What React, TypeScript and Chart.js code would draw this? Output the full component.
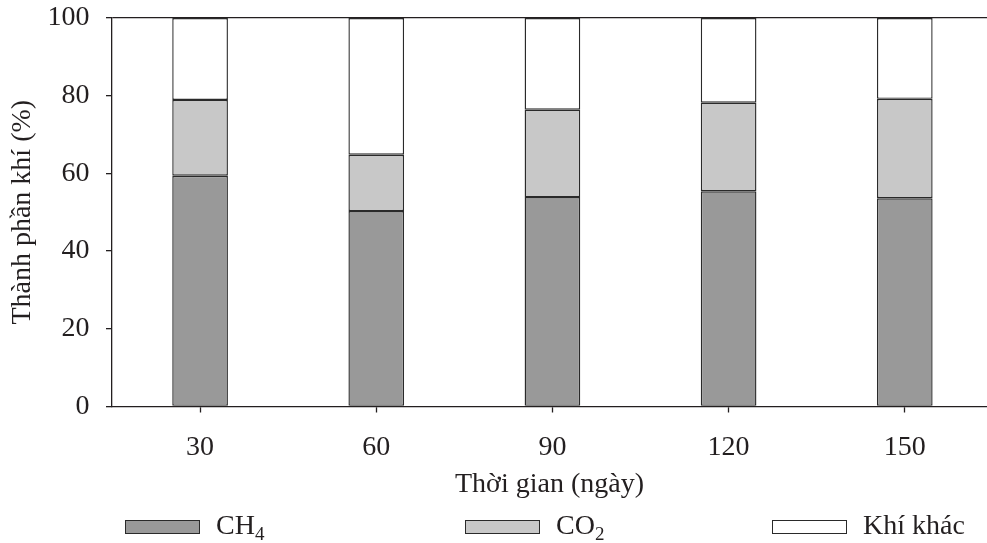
import React, { useEffect, useRef } from "react";
import { Chart, registerables } from "chart.js";

Chart.register(...registerables);

// ---- data ----
const days = [30, 60, 90, 120, 150];
const ch4 = [59.4, 50.3, 53.9, 55.4, 53.6];
const co2 = [19.5, 14.5, 22.5, 22.8, 25.6];
const otherGas = [21.1, 35.2, 23.6, 21.8, 20.8];
const seriesNames = ["CH4", "CO2", "Khí khác"];
const seriesColors = ["#999999", "#c8c8c8", "#ffffff"];
const yTicks = [0, 20, 40, 60, 80, 100];
const xTitle = "Thời gian (ngày)";
const yTitle = "Thành phần khí (%)";

const FONT = "'Liberation Serif', 'Times New Roman', serif";
const INK = "#231f20";
const legendLeft = [125, 465, 772];

function renderName(name: string) {
  const m = name.match(/^([A-Za-z]+)(\d+)$/);
  if (!m) return name;
  return (
    <>
      {m[1]}
      <sub style={{ fontSize: "0.68em", verticalAlign: "-0.3em", lineHeight: 0 }}>{m[2]}</sub>
    </>
  );
}

export default function App() {
  const canvasRef = useRef<HTMLCanvasElement | null>(null);

  useEffect(() => {
    const canvas = canvasRef.current;
    if (!canvas) return;
    const seriesValues = [ch4, co2, otherGas];
    const chart = new Chart(canvas, {
      type: "bar",
      data: {
        datasets: seriesNames.map((name, si) => ({
          label: name,
          data: days.map((d, i) => ({ x: d, y: seriesValues[si][i] })),
          backgroundColor: seriesColors[si],
          borderColor: "#2a2a2a",
          borderWidth: 1.4,
          borderSkipped: false,
          barPercentage: 0.316,
          categoryPercentage: 1,
        })),
      },
      options: {
        animation: false,
        responsive: false,
        devicePixelRatio: 1,
        layout: { padding: { top: 18, right: 0, left: 0, bottom: 0 } },
        plugins: { legend: { display: false }, tooltip: { enabled: false } },
        scales: {
          x: {
            type: "linear",
            stacked: true,
            offset: false,
            min: 15,
            max: 164,
            afterBuildTicks: (scale: any) => {
              scale.ticks = days.map((v) => ({ value: v }));
            },
            afterFit: (scale: any) => {
              scale.height = 543 - 406.5;
              scale.paddingLeft = 0;
              scale.paddingRight = 0;
            },
            border: { display: true, color: INK, width: 1.3 },
            grid: {
              offset: false,
              color: "transparent",
              tickColor: INK,
              tickLength: 6,
              tickWidth: 1.3,
            },
            ticks: {
              padding: 18,
              color: INK,
              font: { family: FONT, size: 28 },
              callback: (v: any) => String(v),
              maxRotation: 0,
            },
            title: {
              display: true,
              text: xTitle,
              color: INK,
              font: { family: FONT, size: 28 },
              padding: { top: 0, bottom: 42 },
            },
          },
          y: {
            stacked: true,
            min: 0,
            max: 100,
            afterBuildTicks: (scale: any) => {
              scale.ticks = yTicks.map((v) => ({ value: v }));
            },
            afterFit: (scale: any) => {
              scale.width = 112;
              scale.paddingTop = 0;
              scale.paddingBottom = 0;
            },
            border: { display: true, color: INK, width: 1.3 },
            grid: {
              color: (ctx: any) => (ctx.tick && ctx.tick.value === 100 ? INK : "transparent"),
              lineWidth: 1.3,
              tickColor: INK,
              tickLength: 6,
              tickWidth: 1.3,
            },
            ticks: {
              padding: 16.5,
              color: INK,
              font: { family: FONT, size: 28 },
            },
            title: {
              display: true,
              text: yTitle,
              color: INK,
              font: { family: FONT, size: 28 },
              padding: { top: 6, bottom: 0 },
            },
          },
        },
      },
    });
    return () => chart.destroy();
  }, []);

  return (
    <div style={{ position: "absolute", left: 0, top: 0, width: 987, height: 543, overflow: "hidden", background: "#fff" }}>
      <canvas ref={canvasRef} width={987} height={543} style={{ display: "block", width: 987, height: 543 }} />
      {seriesNames.map((name, i) => (
        <div
          key={name}
          style={{
            position: "absolute",
            left: legendLeft[i],
            top: 511,
            display: "flex",
            alignItems: "center",
            fontFamily: FONT,
            fontSize: 28,
            lineHeight: 1,
            color: INK,
            whiteSpace: "nowrap",
          }}
        >
          <span
            style={{
              display: "inline-block",
              width: 73,
              height: 12,
              marginTop: 3,
              background: seriesColors[i],
              border: "1.3px solid #2a2a2a",
              marginRight: 16,
            }}
          />
          <span>{renderName(name)}</span>
        </div>
      ))}
    </div>
  );
}
